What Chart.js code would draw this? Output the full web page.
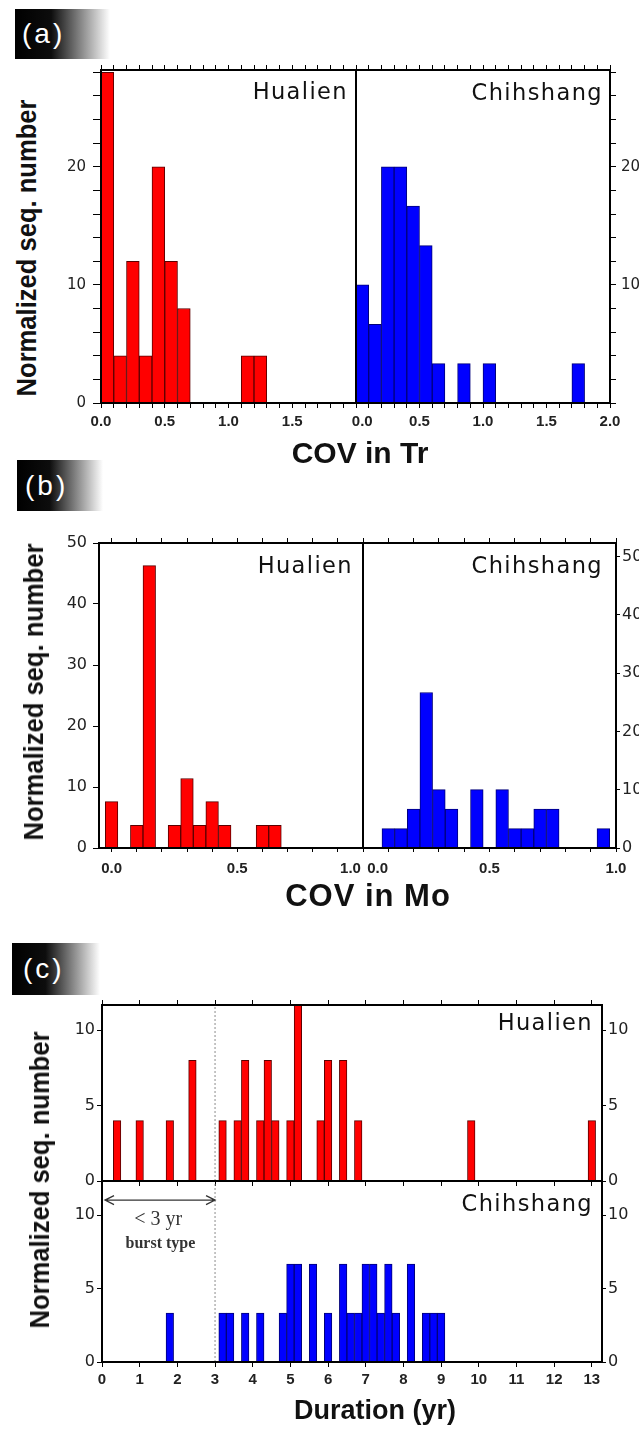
<!DOCTYPE html>
<html>
<head>
<meta charset="utf-8">
<script src="https://cdn.jsdelivr.net/npm/chart.js@4.4.1/dist/chart.umd.min.js"></script>
<style>
  html, body { margin: 0; padding: 0; background: #fff; overflow: hidden; }
  #page { position: relative; width: 639px; height: 1430px; }
  canvas { position: absolute; }
  .tag { position: absolute; box-sizing: border-box; color: #fff;
         background: linear-gradient(to right, #000 0%, #0d0d0d 38%, #fff 100%);
         font: 28px 'Liberation Sans', Arial, sans-serif; letter-spacing: 3px; }
  .txt { position: absolute; white-space: nowrap; line-height: 1; color: #111; }
  .site { font-family: 'DejaVu Sans', sans-serif; font-size: 22.5px; letter-spacing: 1.4px;
          transform: translate(-100%, -50%); }
  .xtitle { font: bold 30px 'Liberation Sans', Arial, sans-serif; transform: translate(-50%, -50%); }
  .ytitle { font: bold 28px 'Liberation Sans', Arial, sans-serif;
            transform: translate(-50%, -50%) rotate(-90deg) scaleX(0.913); }
</style>
</head>
<body>
<div id="page">
  <canvas id="aL"></canvas><canvas id="aR"></canvas>
  <canvas id="bL"></canvas><canvas id="bR"></canvas>
  <canvas id="cU"></canvas><canvas id="cD"></canvas>

  <div class="tag" style="left:15px;top:9px;width:95px;height:50px;line-height:50px;padding-left:7px">(a)</div>
  <div class="tag" style="left:17px;top:460px;width:86px;height:51px;line-height:51px;padding-left:8px">(b)</div>
  <div class="tag" style="left:12px;top:943px;width:88px;height:52px;line-height:52px;padding-left:11px">(c)</div>

  <div class="txt site" style="left:348px;top:91px">Hualien</div>
  <div class="txt site" style="left:603px;top:92px">Chihshang</div>
  <div class="txt site" style="left:353px;top:565px">Hualien</div>
  <div class="txt site" style="left:603px;top:565px">Chihshang</div>
  <div class="txt site" style="left:593px;top:1022px">Hualien</div>
  <div class="txt site" style="left:593px;top:1203px">Chihshang</div>

  <div class="txt ytitle" style="left:27px;top:248px">Normalized seq. number</div>
  <div class="txt ytitle" style="left:34px;top:692px">Normalized seq. number</div>
  <div class="txt ytitle" style="left:40px;top:1180px">Normalized seq. number</div>

  <div class="txt xtitle" style="left:360px;top:453px">COV in Tr</div>
  <div class="txt xtitle" style="left:368px;top:896px;font-size:31px;letter-spacing:1px">COV in Mo</div>
  <div class="txt xtitle" style="left:375px;top:1410px;font-size:27px">Duration (yr)</div>
</div>
<script>
// (a) COV in recurrence interval, bins of 0.1 (bin centres)
const trBinsHualien = [0.05, 0.15, 0.25, 0.35, 0.45, 0.55, 0.65, 0.75, 0.85, 0.95, 1.05, 1.15, 1.25];
const trHualien = [28, 4, 12, 4, 20, 12, 8, 0, 0, 0, 0, 4, 4];
const trBinsChihshang = [0.05, 0.15, 0.25, 0.35, 0.45, 0.55, 0.65, 0.75, 0.85, 0.95,
                         1.05, 1.15, 1.25, 1.35, 1.45, 1.55, 1.65, 1.75];
const trChihshang = [10, 6.67, 20, 20, 16.67, 13.33, 3.33, 0, 3.33, 0, 3.33, 0, 0, 0, 0, 0, 0, 3.33];

// (b) COV in seismic moment, bins of 0.05
const moBins = [0, 0.05, 0.1, 0.15, 0.2, 0.25, 0.3, 0.35, 0.4, 0.45, 0.5,
                0.55, 0.6, 0.65, 0.7, 0.75, 0.8, 0.85, 0.9, 0.95, 1.0];
const moHualien = [7.6, 0, 3.7, 46.3, 0, 3.7, 11.4, 3.7, 7.6, 3.7, 0, 0, 3.7, 3.7, 0, 0, 0, 0, 0, 0, 0];
const moChihshang = [0, 0, 3.33, 3.33, 6.67, 26.67, 10, 6.67, 0, 10, 0, 10, 3.33, 3.33, 6.67, 6.67, 0, 0, 0, 3.33, 0];

// (c) sequence duration, bins of 0.2 yr (only filled bins listed)
const durYrHualien = [0.4, 1.0, 1.8, 2.4, 3.2, 3.6, 3.8, 4.2, 4.4, 4.6, 5.0, 5.2, 5.8, 6.0, 6.4, 6.8, 9.8, 13.0];
const durHualien = [4, 4, 4, 8, 4, 4, 8, 4, 8, 4, 4, 12, 4, 8, 8, 4, 4, 4];
const durYrChihshang = [1.8, 3.2, 3.4, 3.8, 4.2, 4.8, 5.0, 5.2, 5.6, 6.0, 6.4, 6.6, 6.8,
                        7.0, 7.2, 7.4, 7.6, 7.8, 8.2, 8.6, 8.8, 9.0];
const durChihshang = [3.33, 3.33, 3.33, 3.33, 3.33, 3.33, 6.67, 6.67, 6.67, 3.33, 6.67, 3.33, 3.33,
                      6.67, 6.67, 3.33, 6.67, 3.33, 6.67, 3.33, 3.33, 3.33];

// tick labels
const trTicks = [0, 0.5, 1, 1.5, 2];
const moTicks = [0, 0.5, 1];
const durTicks = [0, 1, 2, 3, 4, 5, 6, 7, 8, 9, 10, 11, 12, 13];
const trCounts = [0, 10, 20];
const moCounts = [0, 10, 20, 30, 40, 50];
const durCounts = [0, 5, 10];

const burstLimit = 3;          // dotted line, yr
const burstSpan = [0.08, 3.0]; // arrow extent, yr

const M = {l: 56, r: 36, t: 16, b: 34};
const xFont = {family: "'Liberation Sans', Arial, sans-serif", size: 15, weight: 'bold'};
const yFont = size => ({family: "'DejaVu Sans', sans-serif", size: size});

function axis(pos, min, max, step, size, o) {
  o = o || {};
  const labels = o.labels || [];
  return {
    type: 'linear', position: pos, min: min, max: max, offset: false,
    afterFit: s => { if (s.isHorizontal()) s.height = size; else s.width = size; },
    border: {display: true, color: '#000', width: 2, z: 1},
    grid: {offset: false, drawOnChartArea: false, drawTicks: !!o.tick, tickLength: o.tick || 0,
           tickColor: '#000', tickWidth: 1},
    ticks: {
      stepSize: step, autoSkip: false, includeBounds: false, maxRotation: 0, minRotation: 0,
      padding: o.pad || 0, color: '#222', font: o.font || yFont(15),
      callback: v => {
        const k = labels.findIndex(t => Math.abs(t - v) < 1e-6);
        return k < 0 ? '' : (o.fmt ? o.fmt(labels[k]) : String(labels[k]));
      }
    }
  };
}

function bars(centres, values, fill, edge) {
  return {
    type: 'bar', data: centres.map((c, i) => ({x: c, y: values[i]})),
    backgroundColor: fill, borderColor: edge, borderWidth: 1,
    barPercentage: 1, categoryPercentage: 1
  };
}

function marker(x, top) {
  return {
    type: 'line', data: [{x: x, y: 0}, {x: x, y: top}],
    borderColor: '#8c8c8c', borderWidth: 1, borderDash: [2, 2], pointRadius: 0
  };
}

function panel(id, box, datasets, scales, plugins) {
  const cv = document.getElementById(id);
  cv.width = box.r - box.l + M.l + M.r;
  cv.height = box.b - box.t + M.t + M.b;
  cv.style.left = (box.l - M.l) + 'px';
  cv.style.top = (box.t - M.t) + 'px';
  return new Chart(cv, {
    type: 'bar',
    data: {datasets: datasets},
    options: {
      responsive: false, animation: false, devicePixelRatio: 1, events: [],
      layout: {padding: 0},
      plugins: {legend: {display: false}, tooltip: {enabled: false}},
      scales: scales
    },
    plugins: plugins || []
  });
}

const fmt1 = v => v.toFixed(1);
const RED = '#ff0000', RED_EDGE = '#5a0000', BLUE = '#0000ff', BLUE_EDGE = '#00007a';

// (a)
const trMax = 28.2;
panel('aL', {l: 101, r: 356, t: 70, b: 403}, [bars(trBinsHualien, trHualien, RED, RED_EDGE)], {
  x: axis('bottom', 0, 2, 0.1, M.b, {tick: 5, pad: 5, font: xFont, labels: [0, 0.5, 1, 1.5], fmt: fmt1}),
  x2: axis('top', 0, 2, 0.1, M.t, {tick: 5}),
  y: axis('left', 0, trMax, 2, M.l, {tick: 8, pad: 7, font: yFont(15), labels: trCounts}),
  y2: axis('right', 0, trMax, 2, M.r)
});
panel('aR', {l: 356, r: 610, t: 70, b: 403}, [bars(trBinsChihshang, trChihshang, BLUE, BLUE_EDGE)], {
  x: axis('bottom', 0, 2, 0.1, M.b, {tick: 5, pad: 5, font: xFont, labels: trTicks,
    fmt: v => (v === 0 ? '   ' : '') + fmt1(v)}),
  x2: axis('top', 0, 2, 0.1, M.t, {tick: 5}),
  y: axis('left', 0, trMax, 2, M.l),
  y2: axis('right', 0, trMax, 2, M.r, {tick: 6, pad: 5, font: yFont(15), labels: [10, 20]})
});

// (b)
panel('bL', {l: 99, r: 363, t: 543, b: 848}, [bars(moBins, moHualien, RED, RED_EDGE)], {
  x: axis('bottom', -0.05, 1, 0.1, M.b, {tick: 4, pad: 8, font: xFont, labels: moTicks,
    fmt: v => fmt1(v) + (v === 1 ? '      ' : '')}),
  x2: axis('top', -0.05, 1, 0.1, M.t, {tick: 5}),
  y: axis('left', 0, 50, 10, M.l, {tick: 6, pad: 6, font: yFont(16), labels: moCounts}),
  y2: axis('right', 0, 50, 10, M.r)
});
panel('bR', {l: 363, r: 616, t: 543, b: 848}, [bars(moBins, moChihshang, BLUE, BLUE_EDGE)], {
  x: axis('bottom', 0, 1, 0.1, M.b, {tick: 4, pad: 8, font: xFont, labels: moTicks,
    fmt: v => (v === 0 ? '       ' : '') + fmt1(v)}),
  x2: axis('top', 0, 1, 0.1, M.t, {tick: 5}),
  y: axis('left', 0, 52.3, 10, M.l),
  y2: axis('right', 0, 52.3, 10, M.r, {tick: 4, pad: 2, font: yFont(16), labels: moCounts})
});

// (c)
const durMax = 13.27, durTopU = 11.67, durTopD = 12.33;
const burstNote = {
  id: 'burstNote',
  afterDraw(chart) {
    const {ctx} = chart;
    const x = chart.scales.x, y = chart.scales.y;
    const x0 = x.getPixelForValue(burstSpan[0]), x1 = x.getPixelForValue(burstSpan[1]);
    const ya = y.getPixelForValue(11.03);
    ctx.save();
    ctx.strokeStyle = '#333';
    ctx.lineWidth = 1.3;
    ctx.beginPath();
    ctx.moveTo(x0, ya); ctx.lineTo(x1, ya);
    ctx.moveTo(x0 + 9, ya - 4.5); ctx.lineTo(x0, ya); ctx.lineTo(x0 + 9, ya + 4.5);
    ctx.moveTo(x1 - 9, ya - 4.5); ctx.lineTo(x1, ya); ctx.lineTo(x1 - 9, ya + 4.5);
    ctx.stroke();
    ctx.fillStyle = '#333';
    ctx.textAlign = 'center';
    ctx.textBaseline = 'middle';
    ctx.font = '20px "Liberation Serif", serif';
    ctx.fillText('< 3 yr', x.getPixelForValue(1.49), y.getPixelForValue(9.67));
    ctx.font = 'bold 16px "Liberation Serif", serif';
    ctx.fillText('burst type', x.getPixelForValue(1.55), y.getPixelForValue(8.04));
    ctx.restore();
  }
};

panel('cU', {l: 102, r: 602, t: 1005, b: 1181},
  [bars(durYrHualien, durHualien, RED, RED_EDGE), marker(burstLimit, durTopU)], {
  x: axis('bottom', 0, durMax, 1, M.b, {tick: 5}),
  x2: axis('top', 0, durMax, 1, M.t, {tick: 5}),
  y: axis('left', 0, durTopU, 5, M.l, {tick: 5, pad: 2, font: yFont(16), labels: durCounts}),
  y2: axis('right', 0, durTopU, 5, M.r, {tick: 4, pad: 2, font: yFont(16), labels: durCounts})
});
panel('cD', {l: 102, r: 602, t: 1181, b: 1362},
  [bars(durYrChihshang, durChihshang, BLUE, BLUE_EDGE), marker(burstLimit, durTopD)], {
  x: axis('bottom', 0, durMax, 1, M.b, {tick: 5, pad: 4, font: xFont, labels: durTicks}),
  x2: axis('top', 0, durMax, 1, M.t),
  y: axis('left', 0, durTopD, 5, M.l, {tick: 5, pad: 2, font: yFont(16), labels: durCounts}),
  y2: axis('right', 0, durTopD, 5, M.r, {tick: 4, pad: 2, font: yFont(16), labels: durCounts})
}, [burstNote]);
</script>
</body>
</html>
